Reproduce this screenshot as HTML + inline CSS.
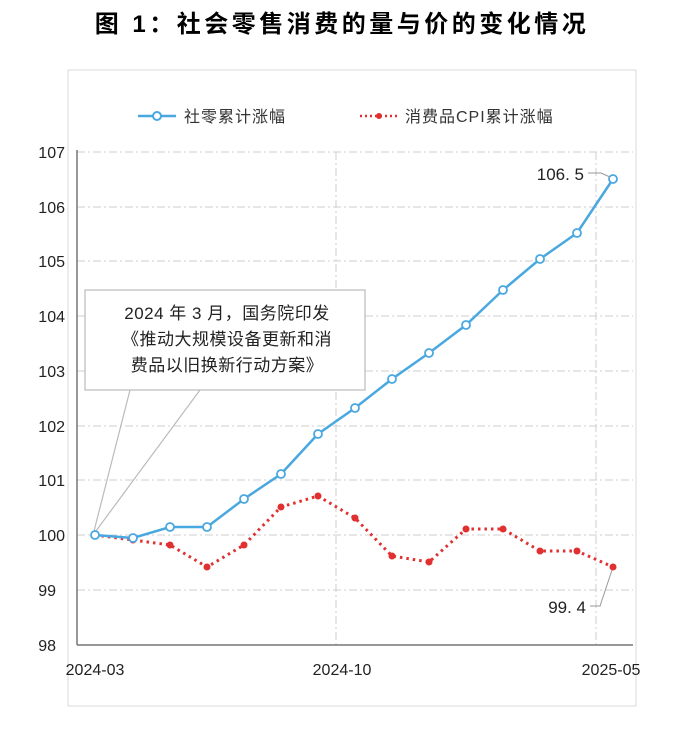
<!DOCTYPE html>
<html><head><meta charset="utf-8"><style>
body{margin:0;background:#fff;width:680px;height:731px;overflow:hidden}
text{font-family:"Liberation Sans","Noto Sans CJK SC",sans-serif}
</style></head><body>
<svg width="680" height="731" viewBox="0 0 680 731" xmlns="http://www.w3.org/2000/svg">
<text x="342" y="32" text-anchor="middle" font-size="24" font-weight="bold" fill="#000" letter-spacing="3.5" font-family="'Noto Serif CJK SC','Noto Sans CJK SC',serif">图 1：社会零售消费的量与价的变化情况</text>
<rect x="68" y="70" width="568" height="636" fill="none" stroke="#d9d9d9" stroke-width="1"/>
<line x1="138" y1="116" x2="176" y2="116" stroke="#4aa8e0" stroke-width="2.5"/>
<circle cx="157" cy="116" r="4" fill="#fff" stroke="#4aa8e0" stroke-width="2"/>
<text x="184" y="122" font-size="16" fill="#333" letter-spacing="1">社零累计涨幅</text>
<line x1="360" y1="116" x2="398" y2="116" stroke="#e03030" stroke-width="2.5" stroke-dasharray="2,3"/>
<circle cx="379" cy="116" r="3" fill="#e03030"/>
<text x="405" y="122" font-size="16" fill="#333" letter-spacing="1">消费品CPI累计涨幅</text>
<g stroke="#cfcfcf" stroke-width="1" stroke-dasharray="8,3,2,3">
<line x1="77" y1="152" x2="633" y2="152"/>
<line x1="77" y1="207" x2="633" y2="207"/>
<line x1="77" y1="261" x2="633" y2="261"/>
<line x1="77" y1="316" x2="633" y2="316"/>
<line x1="77" y1="371" x2="633" y2="371"/>
<line x1="77" y1="426" x2="633" y2="426"/>
<line x1="77" y1="480" x2="633" y2="480"/>
<line x1="77" y1="535" x2="633" y2="535"/>
<line x1="77" y1="590" x2="633" y2="590"/>
<line x1="336" y1="152" x2="336" y2="645"/>
<line x1="596" y1="152" x2="596" y2="645"/>
</g>
<line x1="77" y1="150" x2="77" y2="645" stroke="#777" stroke-width="1.5"/>
<line x1="77" y1="645" x2="633" y2="645" stroke="#777" stroke-width="1.5"/>
<g font-size="16" fill="#222" text-anchor="end">
<text x="65" y="158">107</text><text x="65" y="213">106</text><text x="65" y="267">105</text>
<text x="65" y="322">104</text><text x="65" y="377">103</text><text x="65" y="432">102</text>
<text x="65" y="486">101</text><text x="65" y="541">100</text><text x="56" y="596">99</text>
<text x="56" y="651">98</text>
</g>
<g font-size="16" fill="#222" text-anchor="middle">
<text x="95" y="675">2024-03</text><text x="342" y="675">2024-10</text><text x="611" y="675">2025-05</text>
</g>
<line x1="130" y1="390" x2="93" y2="535" stroke="#bbb" stroke-width="1.2"/>
<line x1="200" y1="390" x2="93" y2="535" stroke="#bbb" stroke-width="1.2"/>
<rect x="85" y="290" width="280" height="100" fill="#fff" stroke="#bbb" stroke-width="1.2"/>
<g font-size="17" fill="#222" text-anchor="middle" letter-spacing="0.5">
<text x="227" y="319">2024 年 3 月，国务院印发</text>
<text x="227" y="345">《推动大规模设备更新和消</text>
<text x="227" y="371">费品以旧换新行动方案》</text>
</g>
<polyline fill="none" stroke="#e03030" stroke-width="3" stroke-dasharray="2.5,4" points="95,535 133,540 170,545 207,567 244,545 281,507 318,496 355,518 392,556 429,562 466,529 503,529 540,551 577,551 613,567"/>
<g fill="#e03030">
<circle cx="95" cy="535" r="3.5"/><circle cx="133" cy="540" r="3.5"/><circle cx="170" cy="545" r="3.5"/><circle cx="207" cy="567" r="3.5"/><circle cx="244" cy="545" r="3.5"/><circle cx="281" cy="507" r="3.5"/><circle cx="318" cy="496" r="3.5"/><circle cx="355" cy="518" r="3.5"/><circle cx="392" cy="556" r="3.5"/><circle cx="429" cy="562" r="3.5"/><circle cx="466" cy="529" r="3.5"/><circle cx="503" cy="529" r="3.5"/><circle cx="540" cy="551" r="3.5"/><circle cx="577" cy="551" r="3.5"/><circle cx="613" cy="567" r="3.5"/>
</g>
<polyline fill="none" stroke="#4aa8e0" stroke-width="2.5" points="95,535 133,538 170,527 207,527 244,499 281,474 318,434 355,408 392,379 429,353 466,325 503,290 540,259 577,233 613,179"/>
<g fill="#fff" stroke="#4aa8e0" stroke-width="1.8">
<circle cx="95" cy="535" r="4"/><circle cx="133" cy="538" r="4"/><circle cx="170" cy="527" r="4"/><circle cx="207" cy="527" r="4"/><circle cx="244" cy="499" r="4"/><circle cx="281" cy="474" r="4"/><circle cx="318" cy="434" r="4"/><circle cx="355" cy="408" r="4"/><circle cx="392" cy="379" r="4"/><circle cx="429" cy="353" r="4"/><circle cx="466" cy="325" r="4"/><circle cx="503" cy="290" r="4"/><circle cx="540" cy="259" r="4"/><circle cx="577" cy="233" r="4"/><circle cx="613" cy="179" r="4"/>
</g>
<polyline fill="none" stroke="#999" stroke-width="1" points="588,173 601,173 610,177"/>
<polyline fill="none" stroke="#999" stroke-width="1" points="590,606 600,606 612,570"/>
<text x="584" y="180" font-size="17" fill="#222" text-anchor="end">106. 5</text>
<text x="586" y="613" font-size="17" fill="#222" text-anchor="end">99. 4</text>
</svg>
</body></html>
